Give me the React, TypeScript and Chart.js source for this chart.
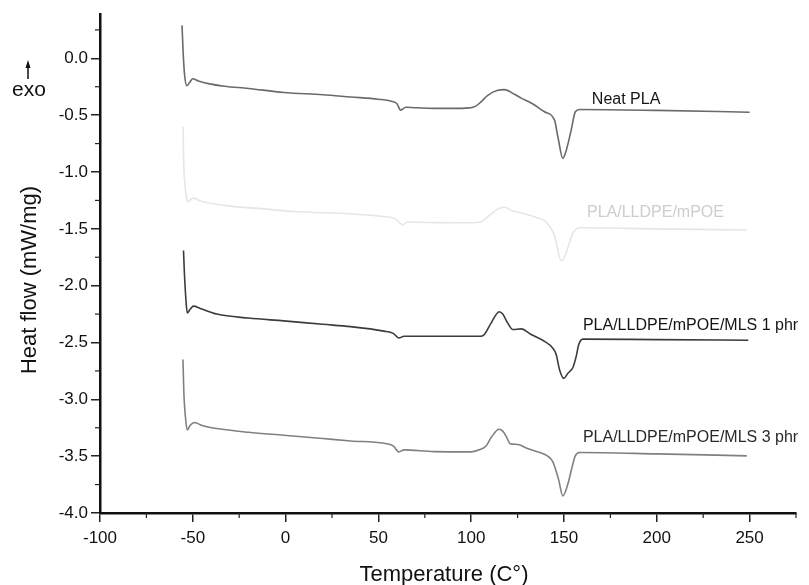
import React, { useEffect, useRef } from "react";
import { Chart, registerables } from "chart.js";

Chart.register(...registerables);

// ---- Data (temperature °C, heat flow mW/mg) ----
const neatTemp = [-55.8, -55.2, -54.4, -53.2, -51.6, -50.0, -47, -41, -33, -20, -1, 20, 35, 50, 57, 60, 62, 64.8, 70, 80, 95, 101.7, 105.3, 108.9, 114.3, 117.9, 123.3, 126.9, 133, 139.5, 144.9, 146.7, 149.4, 151.2, 153.9, 156.1, 158.4, 200, 250];
const neatFlow = [0.29, 0.05, -0.15, -0.24, -0.21, -0.18, -0.2, -0.225, -0.245, -0.265, -0.3, -0.32, -0.34, -0.36, -0.377, -0.4, -0.456, -0.43, -0.435, -0.44, -0.44, -0.427, -0.383, -0.325, -0.28, -0.275, -0.316, -0.35, -0.4, -0.47, -0.544, -0.69, -0.88, -0.81, -0.63, -0.47, -0.45, -0.458, -0.474];

const blendTemp = [-55.2, -55.0, -54.3, -53.5, -52.5, -51, -49.8, -45, -29.8, -9.9, 4.4, 35.1, 53, 59, 61, 63.2, 65.3, 80, 100, 105, 110, 115, 118, 122, 127, 135, 140.4, 144.7, 148.5, 150, 151.8, 155, 159.3, 200, 248.5];
const blendFlow = [-0.6, -0.85, -1.1, -1.22, -1.26, -1.24, -1.23, -1.26, -1.3, -1.327, -1.348, -1.368, -1.392, -1.41, -1.44, -1.465, -1.44, -1.445, -1.447, -1.44, -1.38, -1.32, -1.31, -1.34, -1.36, -1.4, -1.44, -1.55, -1.78, -1.76, -1.68, -1.53, -1.49, -1.5, -1.51];

const mls1Temp = [-55.0, -54.5, -53.8, -53.0, -51.5, -49.6, -46, -37, -20, -1, 20, 35, 53, 58, 61, 63.8, 80, 100, 105.3, 107.1, 110.7, 115.1, 117, 119.7, 122.4, 126.9, 132.3, 139.5, 144, 145.8, 147.6, 149.9, 152.1, 154.8, 156.6, 157.9, 160.2, 200, 249.3];
const mls1Flow = [-1.69, -1.9, -2.1, -2.24, -2.21, -2.18, -2.2, -2.25, -2.285, -2.31, -2.34, -2.36, -2.4, -2.42, -2.46, -2.445, -2.445, -2.445, -2.445, -2.43, -2.33, -2.23, -2.25, -2.33, -2.386, -2.38, -2.43, -2.49, -2.55, -2.605, -2.74, -2.816, -2.77, -2.72, -2.62, -2.52, -2.47, -2.475, -2.48];

const mls3Temp = [-55.3, -54.8, -54.0, -53.0, -51.5, -49.0, -45, -37, -20, -1, 20, 35, 53, 58, 61, 63.8, 80, 100, 105, 108, 111, 115, 117, 119, 121, 124, 126, 130, 137, 141, 144, 147, 149.4, 152, 154, 156, 158.4, 200, 248.5];
const mls3Flow = [-2.65, -2.95, -3.15, -3.27, -3.23, -3.204, -3.23, -3.257, -3.29, -3.316, -3.345, -3.366, -3.386, -3.41, -3.462, -3.445, -3.46, -3.462, -3.44, -3.41, -3.33, -3.263, -3.28, -3.33, -3.39, -3.395, -3.4, -3.43, -3.468, -3.497, -3.55, -3.7, -3.85, -3.75, -3.62, -3.5, -3.468, -3.48, -3.497];

const seriesNames = ["Neat PLA", "PLA/LLDPE/mPOE", "PLA/LLDPE/mPOE/MLS 1 phr", "PLA/LLDPE/mPOE/MLS 3 phr"];
const seriesColors = ["#6a6a6a", "#e6e6e6", "#3c3c3c", "#808080"];
const labelColors = ["#151515", "#cdcdcd", "#151515", "#2a2a2a"];
// label anchor in data coordinates (temperature, heat flow)
const labelTemp = [165, 162.4, 160.2, 160.2];
const labelFlow = [-0.36, -1.355, -2.355, -3.34];

const xTitle = "Temperature (C°)";
const yTitle = "Heat flow (mW/mg)";
const exoText = "exo";

const FONT = "'Liberation Sans', Arial, Helvetica, sans-serif";

function toPoints(xs: number[], ys: number[]) {
  return xs.map((x, i) => ({ x, y: ys[i] }));
}

const decorPlugin = {
  id: "decor",
  afterDraw(chart: any) {
    const ctx = chart.ctx as CanvasRenderingContext2D;
    const xs = chart.scales.x;
    const ys = chart.scales.y;
    const area = chart.chartArea;
    ctx.save();
    // minor ticks
    ctx.strokeStyle = "#222";
    ctx.lineWidth = 1.2;
    for (let v = -75; v <= 275; v += 50) {
      const px = xs.getPixelForValue(v);
      ctx.beginPath();
      ctx.moveTo(px, area.bottom);
      ctx.lineTo(px, area.bottom + 5);
      ctx.stroke();
    }
    for (let v = 0.25; v >= -3.75; v -= 0.5) {
      const py = ys.getPixelForValue(v);
      ctx.beginPath();
      ctx.moveTo(area.left, py);
      ctx.lineTo(area.left - 5, py);
      ctx.stroke();
    }
    // axis titles
    ctx.fillStyle = "#111";
    ctx.font = `22px ${FONT}`;
    ctx.textAlign = "center";
    ctx.textBaseline = "middle";
    ctx.fillText(xTitle, (area.left + area.right) / 2 - 4, 575);
    ctx.save();
    ctx.translate(30, 280);
    ctx.rotate(-Math.PI / 2);
    ctx.font = `22px ${FONT}`;
    ctx.fillText(yTitle, 0, 0);
    ctx.restore();
    // exo + arrow
    ctx.font = `21px ${FONT}`;
    ctx.fillText(exoText, 29, 90);
    ctx.strokeStyle = "#111";
    ctx.lineWidth = 1.5;
    ctx.beginPath();
    ctx.moveTo(28, 79);
    ctx.lineTo(28, 64);
    ctx.stroke();
    ctx.beginPath();
    ctx.moveTo(28, 60);
    ctx.lineTo(25.5, 68);
    ctx.lineTo(30.5, 68);
    ctx.closePath();
    ctx.fillStyle = "#111";
    ctx.fill();
    // series labels
    ctx.font = `16px ${FONT}`;
    ctx.textAlign = "left";
    for (let i = 0; i < seriesNames.length; i++) {
      ctx.fillStyle = labelColors[i];
      ctx.fillText(seriesNames[i], xs.getPixelForValue(labelTemp[i]), ys.getPixelForValue(labelFlow[i]));
    }
    ctx.restore();
  },
};

export default function App() {
  const ref = useRef<HTMLCanvasElement | null>(null);
  useEffect(() => {
    if (!ref.current) return;
    Chart.defaults.font.family = FONT;
    const datasets = [
      toPoints(neatTemp, neatFlow),
      toPoints(blendTemp, blendFlow),
      toPoints(mls1Temp, mls1Flow),
      toPoints(mls3Temp, mls3Flow),
    ].map((data, i) => ({
      label: seriesNames[i],
      data,
      showLine: true,
      borderColor: seriesColors[i],
      backgroundColor: seriesColors[i],
      borderWidth: 1.6,
      pointRadius: 0,
      tension: 0.3,
      cubicInterpolationMode: "monotone" as const,
    }));
    const chart = new Chart(ref.current, {
      type: "scatter",
      data: { datasets },
      options: {
        responsive: false,
        animation: false,
        devicePixelRatio: 1,
        layout: { padding: { left: 0, top: 14, right: 13, bottom: 0 } },
        plugins: { legend: { display: false }, tooltip: { enabled: false }, title: { display: false } },
        scales: {
          x: {
            type: "linear",
            min: -100,
            max: 275,
            afterFit: (s: any) => { s.height = 72; },
            ticks: {
              stepSize: 50,
              includeBounds: false,
              autoSkip: false,
              maxRotation: 0,
              padding: 6,
              color: "#111",
              font: { size: 17, family: FONT },
              callback: (v: any) => String(v),
            },
            grid: { display: true, drawOnChartArea: false, drawTicks: true, tickLength: 9, color: "#222", lineWidth: 1.5 },
            border: { display: true, color: "#111", width: 2.5 },
          },
          y: {
            type: "linear",
            min: -4,
            max: 0.39,
            afterFit: (s: any) => { s.width = 100; },
            ticks: {
              stepSize: 0.5,
              includeBounds: false,
              autoSkip: false,
              padding: 3,
              color: "#111",
              font: { size: 17, family: FONT },
              callback: (v: any) => Number(v).toFixed(1),
            },
            grid: { display: true, drawOnChartArea: false, drawTicks: true, tickLength: 9, color: "#222", lineWidth: 1.5 },
            border: { display: true, color: "#111", width: 2.5 },
          },
        },
      },
      plugins: [decorPlugin],
    });
    return () => chart.destroy();
  }, []);
  return (
    <div style={{ position: "fixed", left: 0, top: 0, width: 809, height: 585, background: "#fff" }}>
      <canvas ref={ref} width={809} height={585} style={{ width: 809, height: 585 }} />
    </div>
  );
}
